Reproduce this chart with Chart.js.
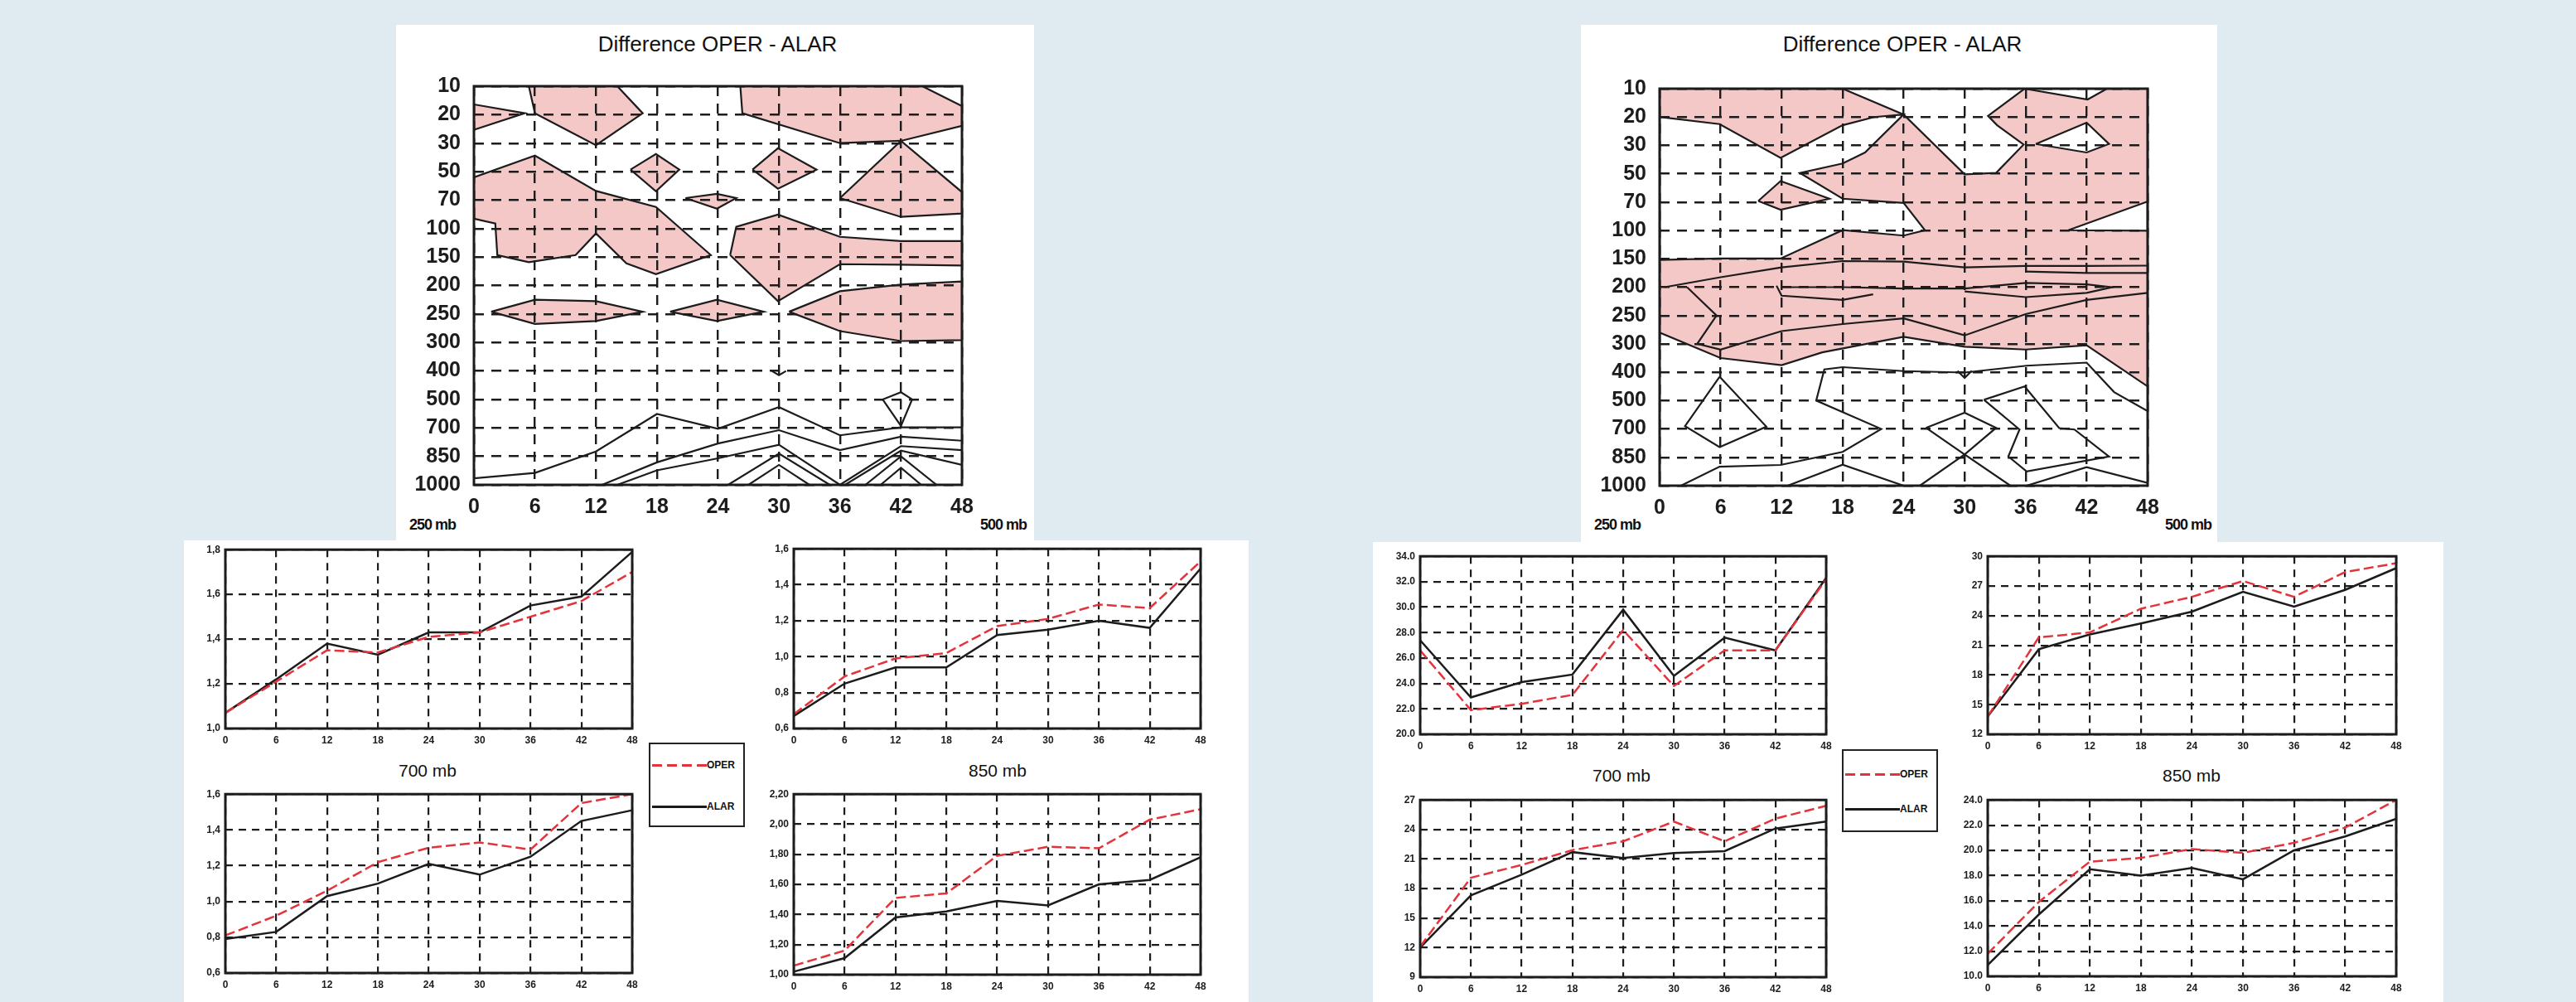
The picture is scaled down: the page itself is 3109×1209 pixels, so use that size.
<!DOCTYPE html>
<html>
<head>
<meta charset="utf-8">
<script src="https://cdn.jsdelivr.net/npm/chart.js@4.4.1/dist/chart.umd.min.js"></script>
<style>
  body { margin:0; width:3109px; height:1209px; background:#e0eaf1; position:relative; overflow:hidden;
         font-family:"Liberation Sans", Arial, sans-serif; color:#111; }
  .panel { position:absolute; background:#fff; }
  canvas { position:absolute; }
  .lbl { position:absolute; white-space:nowrap; transform:translate(-50%,-50%); }
  .title { font-size:26px; }
  .mb { font-size:18px; font-weight:bold; letter-spacing:-1px; }
  .sub { font-size:21px; }
  .legend { position:absolute; background:#fff; border:2px solid #222; box-sizing:border-box; }
  .legend .ln { position:absolute; left:2px; width:66px; height:2.5px; }
  .legend .tx { position:absolute; left:68px; font-size:12px; font-weight:bold; transform:translateY(-50%); }
</style>
</head>
<body>
<div class="panel" style="left:478px;top:30px;width:770px;height:627px"></div>
<div class="panel" style="left:1908px;top:30px;width:768px;height:627px"></div>
<div class="panel" style="left:222px;top:652px;width:1285px;height:557px"></div>
<div class="panel" style="left:1657px;top:654px;width:1292px;height:555px"></div>

<div class="lbl title" style="left:866px;top:53px">Difference OPER - ALAR</div>
<div class="lbl title" style="left:2296px;top:53px">Difference OPER - ALAR</div>
<div class="lbl mb" style="left:522px;top:633px">250 mb</div>
<div class="lbl mb" style="left:1211px;top:633px">500 mb</div>
<div class="lbl mb" style="left:1952px;top:633px">250 mb</div>
<div class="lbl mb" style="left:2641px;top:633px">500 mb</div>
<div class="lbl sub" style="left:516px;top:930px">700 mb</div>
<div class="lbl sub" style="left:1204px;top:930px">850 mb</div>
<div class="lbl sub" style="left:1957px;top:936px">700 mb</div>
<div class="lbl sub" style="left:2645px;top:936px">850 mb</div>

<div class="legend" style="left:783px;top:896px;width:116px;height:102px">
  <div class="ln" style="top:24px;background:repeating-linear-gradient(90deg,#e3343c 0 12px,transparent 12px 18px)"></div>
  <div class="tx" style="top:25px">OPER</div>
  <div class="ln" style="top:74px;background:#1a1a1a"></div>
  <div class="tx" style="top:75px">ALAR</div>
</div>
<div class="legend" style="left:2223px;top:904px;width:116px;height:100px">
  <div class="ln" style="top:27px;background:repeating-linear-gradient(90deg,#e3343c 0 12px,transparent 12px 18px)"></div>
  <div class="tx" style="top:28px">OPER</div>
  <div class="ln" style="top:69px;background:#1a1a1a"></div>
  <div class="tx" style="top:70px">ALAR</div>
</div>

<script>
// forecast hours and pressure levels
const hours = [0, 6, 12, 18, 24, 30, 36, 42, 48];
const levels = [10, 20, 30, 50, 70, 100, 150, 200, 250, 300, 400, 500, 700, 850, 1000];

// left case, line panels
const a250Oper = [1.07, 1.21, 1.35, 1.34, 1.41, 1.43, 1.50, 1.57, 1.70];
const a250Alar = [1.07, 1.22, 1.38, 1.33, 1.43, 1.43, 1.55, 1.59, 1.79];
const a500Oper = [0.68, 0.89, 0.99, 1.02, 1.17, 1.21, 1.29, 1.27, 1.53];
const a500Alar = [0.67, 0.85, 0.94, 0.94, 1.12, 1.15, 1.20, 1.16, 1.49];
const a700Oper = [0.81, 0.92, 1.06, 1.22, 1.30, 1.33, 1.29, 1.55, 1.60];
const a700Alar = [0.79, 0.83, 1.03, 1.10, 1.21, 1.15, 1.25, 1.45, 1.51];
const a850Oper = [1.06, 1.16, 1.51, 1.54, 1.79, 1.85, 1.84, 2.03, 2.10];
const a850Alar = [1.02, 1.11, 1.38, 1.42, 1.49, 1.46, 1.60, 1.63, 1.78];

// right case, line panels
const b250Oper = [26.6, 21.9, 22.4, 23.1, 28.2, 23.8, 26.6, 26.6, 32.2];
const b250Alar = [27.4, 22.9, 24.1, 24.7, 29.8, 24.6, 27.6, 26.6, 32.3];
const b500Oper = [13.8, 21.8, 22.3, 24.7, 25.9, 27.5, 25.9, 28.4, 29.3];
const b500Alar = [13.8, 20.6, 22.1, 23.2, 24.4, 26.4, 24.9, 26.6, 28.8];
const b700Oper = [12.1, 19.1, 20.4, 21.9, 22.8, 24.8, 22.8, 25.1, 26.4];
const b700Alar = [12.0, 17.3, 19.4, 21.7, 21.1, 21.6, 21.8, 24.1, 24.8];
const b850Oper = [11.8, 15.9, 19.1, 19.4, 20.1, 19.8, 20.6, 21.8, 24.0];
const b850Alar = [10.9, 14.9, 18.5, 18.0, 18.6, 17.7, 20.0, 21.1, 22.5];

// contour areas: [hour, level index]
const leftPinkAreas = [
  [[0, 0.64], [5, 0.95], [0, 1.53]],
  [[5.4, 0], [6, 0.95], [12, 2.07], [16.6, 0.95], [14.1, 0]],
  [[26.2, 0], [26.4, 0.95], [36, 2.0], [42, 1.92], [48, 1.39], [48, 0.7], [44.1, 0]],
  [[0, 3.2], [6, 2.44], [12, 3.68], [17.9, 4.24], [23.3, 5.93], [17.9, 6.6], [15, 6.22], [12, 5.17],
   [10, 5.93], [5.4, 6.18], [2.3, 5.93], [2.1, 4.82], [0, 4.65]],
  [[15.4, 2.93], [17.9, 2.38], [20.2, 2.93], [17.9, 3.69]],
  [[27.4, 2.93], [29.9, 2.18], [33.7, 2.93], [29.9, 3.6]],
  [[20.8, 3.93], [23.9, 3.78], [25.8, 3.93], [23.9, 4.3]],
  [[36, 3.93], [42, 1.92], [48, 3.72], [48, 4.47], [42, 4.59]],
  [[25.2, 5.93], [25.8, 4.94], [29.9, 4.51], [36, 5.29], [42, 5.44], [48, 5.44], [48, 6.3], [42, 6.27],
   [36, 6.25], [29.9, 7.55]],
  [[1.7, 7.92], [6, 7.5], [12, 7.55], [16.6, 7.92], [12, 8.25], [6, 8.35]],
  [[19.3, 7.92], [23.9, 7.5], [28.5, 7.92], [23.9, 8.25]],
  [[31, 7.92], [36, 7.2], [42, 6.97], [48, 6.86], [48, 8.92], [42, 8.95], [36, 8.6]]
];
const leftContours = [
  [[0, 13.77], [6, 13.58], [12, 12.83], [18, 11.51], [24, 12.03], [30, 11.27], [36, 12.26], [42, 11.98], [48, 11.98]],
  [[12.6, 14], [18, 13.21], [24, 12.55], [30, 12.08], [36, 12.78], [42, 12.31], [48, 12.45]],
  [[14.1, 14], [18, 13.49], [24, 13.07], [30, 12.59], [36, 14], [42, 12.64], [48, 12.78]],
  [[25, 14], [30, 12.9], [35, 14]],
  [[27, 14], [30, 13.3], [33, 14]],
  [[38.5, 14], [42, 13.0], [45.5, 14]],
  [[40, 14], [42, 13.4], [44, 14]],
  [[36.5, 14], [42, 12.8], [48, 13.3]],
  [[40.2, 11], [42, 10.75], [43.1, 11], [42, 11.93], [40.2, 11]],
  [[29.3, 10], [30, 10.15], [30.7, 10]]
];

const rightPinkBase = [[0, 0], [48, 0], [48, 10.5], [42, 9.05], [36, 9.2], [30, 9.1], [24, 8.75], [16, 9.3],
  [12, 9.75], [6, 9.5], [0, 8.6]];
const rightWhiteAreas = [
  [[18, 0], [24, 0.91], [30, 3.02], [33.1, 2.97], [35.8, 1.97], [33.2, 1.29], [32.3, 0.96], [35.9, 0]],
  [[35.9, 0], [42.1, 0.38], [44, 0]],
  [[37, 1.95], [42, 1.2], [44.2, 1.95], [42, 2.25]],
  [[0, 1.0], [5.9, 1.25], [11.9, 2.44], [18, 1.29], [21.1, 1.0], [24, 0.91], [20.2, 2.25], [18, 2.64],
   [13.8, 2.97], [18, 3.88], [24, 4.03], [26.1, 4.99], [24, 5.18], [18, 4.99], [11.9, 5.99], [5.9, 5.99], [0, 6.04]],
  [[40.2, 4.99], [48, 3.98], [48, 5.01]]
];
const rightInnerPink = [[9.7, 3.96], [11.9, 3.26], [16.7, 3.88], [11.9, 4.27]];
const rightContours = [
  [[0.5, 7.0], [6, 6.65], [12, 6.3], [18, 6.08], [24, 6.1], [30, 6.3], [36, 6.25], [42, 6.25], [48, 6.24]],
  [[36, 6.45], [42, 6.5], [48, 6.5]],
  [[2.7, 7.0], [5.6, 8.0], [3.7, 9.0], [6, 9.2], [12, 8.55], [18, 8.3], [24, 8.1], [30, 8.7], [36, 7.95], [42, 7.45], [48, 7.2]],
  [[11.5, 6.95], [12, 7.3], [18, 7.45], [21, 7.25]],
  [[12, 7.0], [18, 7.0], [24, 7.05], [30, 7.05]],
  [[30, 7.05], [36, 6.85], [42, 6.9], [44.5, 7.0], [42, 7.2], [36, 7.35], [30, 7.15]],
  [[2.1, 14], [5.9, 13.33], [11.9, 13.27], [18, 12.81], [21.8, 12.0], [15.4, 11.0], [16.2, 9.9], [18, 9.82],
   [24, 9.96], [30, 10.01], [36.1, 9.77], [42, 9.66], [44.7, 10.7], [48, 11.37]],
  [[5.9, 10.16], [10.5, 11.92], [5.9, 12.64], [2.5, 11.9], [5.9, 10.16]],
  [[31.9, 10.97], [35.9, 10.5], [39.3, 11.97], [40.8, 12.02], [44.2, 12.97], [36.1, 13.5], [34.3, 12.97],
   [35.4, 12.02], [31.9, 10.97]],
  [[26.2, 11.96], [30, 11.43], [33.1, 11.96], [30, 12.9], [26.2, 11.96]],
  [[25.6, 14], [30, 12.9], [34.5, 14]],
  [[12.6, 14], [18, 13.26], [24, 14]],
  [[36.1, 14], [42, 13.35], [48, 13.9]],
  [[29.3, 9.95], [30, 10.2], [30.7, 9.95]]
];

const pink = '#f5c8c8';
const red = '#e3343c';
const ink = '#1c1c1c';
Chart.defaults.font.family = '"Liberation Sans", Arial, sans-serif';

// black box round the plot area
const frame = {
  id: 'frame',
  afterDraw(chart) {
    const {ctx, chartArea: a} = chart;
    ctx.save();
    ctx.lineWidth = 3;
    ctx.strokeStyle = ink;
    ctx.strokeRect(a.left, a.top, a.width, a.height);
    ctx.restore();
  }
};

// fill the closed contour areas, using the points the scales placed
const polyFill = {
  id: 'polyFill',
  beforeDatasetsDraw(chart) {
    const {ctx, chartArea: a} = chart;
    ctx.save();
    ctx.beginPath();
    ctx.rect(a.left, a.top, a.width, a.height);
    ctx.clip();
    chart.data.datasets.forEach((ds, i) => {
      if (!ds.fillColor) return;
      const pts = chart.getDatasetMeta(i).data;
      ctx.beginPath();
      pts.forEach((p, j) => j ? ctx.lineTo(p.x, p.y) : ctx.moveTo(p.x, p.y));
      ctx.closePath();
      ctx.fillStyle = ds.fillColor;
      ctx.fill();
    });
    ctx.restore();
  }
};

function makeCanvas(left, top, w, h) {
  const c = document.createElement('canvas');
  c.width = w;
  c.height = h;
  c.style.left = left + 'px';
  c.style.top = top + 'px';
  document.body.appendChild(c);
  return c;
}

function smallChart(box, oper, alar, yMin, yMax, yStep, fmt) {
  const [fl, ft, fw, fh] = box;
  const yw = 50, xh = 30, pt = 12, pr = 14;
  const cv = makeCanvas(fl - yw, ft - pt, fw + yw + pr, fh + pt + xh);
  const grid = { color: ink, lineWidth: 2.2, drawTicks: false, borderDash: [9, 7] };
  const tickFont = { size: 12, weight: 'bold' };
  new Chart(cv, {
    type: 'line',
    data: {
      labels: hours,
      datasets: [
        { label: 'OPER', data: oper, borderColor: red, borderWidth: 2.5, borderDash: [12, 5], pointRadius: 0 },
        { label: 'ALAR', data: alar, borderColor: ink, borderWidth: 2.5, pointRadius: 0 }
      ]
    },
    options: {
      responsive: false, animation: false, devicePixelRatio: 1,
      layout: { padding: { top: pt, right: pr, left: 0, bottom: 0 } },
      plugins: { legend: { display: false }, tooltip: { enabled: false } },
      scales: {
        x: {
          grid, border: { display: false, dash: [9, 7] },
          ticks: { padding: 7, font: tickFont, color: ink, maxRotation: 0, autoSkip: false },
          afterFit: s => { s.height = xh; }
        },
        y: {
          min: yMin, max: yMax, grid, border: { display: false, dash: [9, 7] },
          ticks: { stepSize: yStep, padding: 6, font: tickFont, color: ink, callback: v => fmt(v) },
          afterFit: s => { s.width = yw; }
        }
      }
    },
    plugins: [frame]
  });
}

function contourChart(box, areas, contours) {
  const [fl, ft, fw, fh] = box;
  const yw = 92, xh = 50, pt = 20, pr = 30;
  const cv = makeCanvas(fl - yw, ft - pt, fw + yw + pr, fh + pt + xh);
  const xy = pts => pts.map(([x, y]) => ({x, y}));
  const lineStyle = { showLine: true, borderColor: ink, borderWidth: 2.2, pointRadius: 0, tension: 0 };
  const datasets = areas.map(a => Object.assign({ data: xy(a.pts.concat([a.pts[0]])), fillColor: a.color }, lineStyle))
    .concat(contours.map(c => Object.assign({ data: xy(c) }, lineStyle)));
  const grid = { color: ink, lineWidth: 2.4, drawTicks: false, z: 1, borderDash: [12, 9] };
  const tickFont = { size: 25, weight: 'bold' };
  new Chart(cv, {
    type: 'scatter',
    data: { datasets },
    options: {
      responsive: false, animation: false, devicePixelRatio: 1,
      layout: { padding: { top: pt, right: pr, left: 0, bottom: 0 } },
      plugins: { legend: { display: false }, tooltip: { enabled: false } },
      scales: {
        x: {
          type: 'linear', min: 0, max: 48, grid, border: { display: false, dash: [12, 9] },
          ticks: { stepSize: 6, padding: 12, font: tickFont, color: ink, maxRotation: 0, autoSkip: false },
          afterFit: s => { s.height = xh; }
        },
        y: {
          type: 'linear', min: 0, max: 14, reverse: true, grid, border: { display: false, dash: [12, 9] },
          ticks: { stepSize: 1, padding: 16, font: tickFont, color: ink, autoSkip: false, callback: v => levels[v] },
          afterFit: s => { s.width = yw; }
        }
      }
    },
    plugins: [polyFill, frame]
  });
}

const comma = d => v => v.toFixed(d).replace('.', ',');
const dot = d => v => v.toFixed(d);

contourChart([572, 93, 589, 492], leftPinkAreas.map(pts => ({pts, color: pink})), leftContours);
contourChart([2003, 96, 589, 490],
  [{pts: rightPinkBase, color: pink}]
    .concat(rightWhiteAreas.map(pts => ({pts, color: '#ffffff'})))
    .concat([{pts: rightInnerPink, color: pink}]),
  rightContours);

smallChart([272, 662, 491, 217], a250Oper, a250Alar, 1.0, 1.8, 0.2, comma(1));
smallChart([958, 661, 491, 218], a500Oper, a500Alar, 0.6, 1.6, 0.2, comma(1));
smallChart([272, 957, 491, 217], a700Oper, a700Alar, 0.6, 1.6, 0.2, comma(1));
smallChart([958, 957, 491, 219], a850Oper, a850Alar, 1.0, 2.2, 0.2, comma(2));

smallChart([1714, 670, 490, 216], b250Oper, b250Alar, 20, 34, 2, dot(1));
smallChart([2399, 670, 493, 216], b500Oper, b500Alar, 12, 30, 3, dot(0));
smallChart([1714, 964, 490, 215], b700Oper, b700Alar, 9, 27, 3, dot(0));
smallChart([2399, 964, 493, 214], b850Oper, b850Alar, 10, 24, 2, dot(1));
</script>
</body>
</html>
